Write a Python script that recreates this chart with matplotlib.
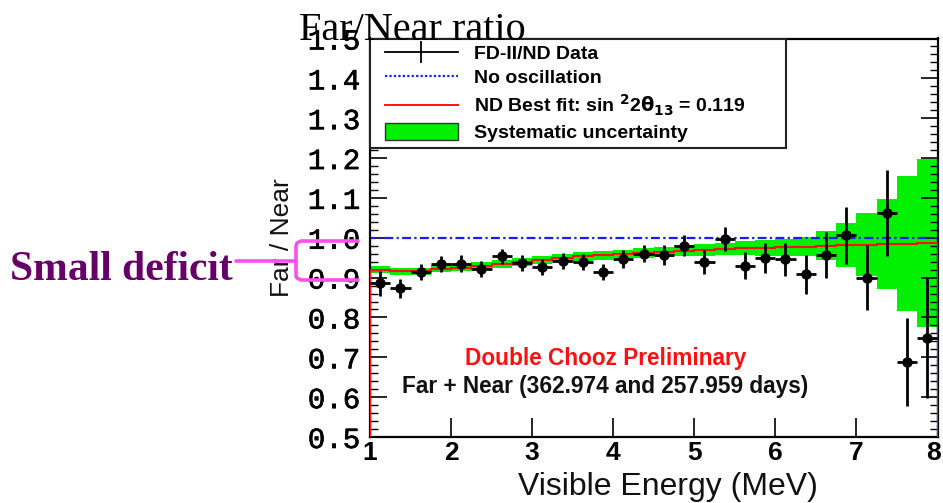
import numpy as np
import matplotlib
matplotlib.use("Agg")
import matplotlib.pyplot as plt
import matplotlib.transforms as mtransforms
import matplotlib.patheffects as pe
from matplotlib.lines import Line2D
from matplotlib.patches import Patch
from matplotlib.legend_handler import HandlerLine2D, HandlerPatch

# ---------------- data ----------------
bin_edges = [1.00, 1.25, 1.50, 1.75, 2.00, 2.25, 2.50, 2.75, 3.00, 3.25,
             3.50, 3.75, 4.00, 4.25, 4.50, 4.75, 5.00, 5.25, 5.50, 5.75,
             6.00, 6.25, 6.50, 6.75, 7.00, 7.25, 7.50, 7.75, 8.00]
ratio = [0.886, 0.873, 0.914, 0.934, 0.935, 0.922, 0.953, 0.937, 0.926, 0.942,
         0.939, 0.914, 0.947, 0.960, 0.957, 0.980, 0.940, 0.997, 0.930, 0.950,
         0.946, 0.908, 0.956, 1.006, 0.900, 1.062, 0.688, 0.748]
ratio_err = [0.031, 0.024, 0.021, 0.021, 0.021, 0.020, 0.020, 0.020, 0.020, 0.020,
             0.021, 0.021, 0.022, 0.022, 0.025, 0.027, 0.030, 0.030, 0.033, 0.038,
             0.042, 0.048, 0.058, 0.072, 0.082, 0.107, 0.111, 0.150]
best_fit = [0.920, 0.916, 0.916, 0.922, 0.925, 0.929, 0.935, 0.940, 0.945, 0.950,
            0.953, 0.956, 0.959, 0.962, 0.965, 0.967, 0.970, 0.972, 0.974, 0.975,
            0.976, 0.978, 0.980, 0.981, 0.983, 0.984, 0.985, 0.987]
syst_half = [0.009, 0.009, 0.009, 0.009, 0.009, 0.009, 0.010, 0.010, 0.010, 0.010,
             0.011, 0.011, 0.011, 0.012, 0.013, 0.014, 0.015, 0.016, 0.018, 0.020,
             0.022, 0.025, 0.037, 0.055, 0.079, 0.113, 0.170, 0.210]
no_osc = 1.0

x_ticks = [1, 2, 3, 4, 5, 6, 7, 8]
y_ticks = [0.5, 0.6, 0.7, 0.8, 0.9, 1.0, 1.1, 1.2, 1.3, 1.4, 1.5]
y_ticklabels = ["0.5", "0.6", "0.7", "0.8", "0.9", "1.0", "1.1", "1.2", "1.3", "1.4", "1.5"]

legend_labels = ["FD-II/ND Data", "No oscillation",
                 r"ND Best fit: sin $^{\mathbf{2}}$2$\mathbf{\theta}_{\mathbf{13}}$ = 0.119",
                 "Systematic uncertainty"]

# ---------------- figure ----------------
W, H = 943, 503
fig = plt.figure(figsize=(W / 100, H / 100), dpi=100)
ax = fig.add_axes([370 / W, 1 - 437 / H, (937.5 - 370) / W, (437 - 38.5) / H])

edges = np.array(bin_edges)
centers = 0.5 * (edges[:-1] + edges[1:])
half_w = 0.5 * np.diff(edges)
bf = np.array(best_fit)
sh = np.array(syst_half)

# systematic band
ax.stairs(bf + sh, edges, baseline=bf - sh, fill=True, color="#00f000",
          lw=0, zorder=1)
# best fit
ax.stairs(bf, edges, baseline=0.5, color="#ff1010", lw=1.5, zorder=3)
# no oscillation
ax.stairs(np.full(len(centers), no_osc), edges, baseline=0.5, color="#1a1aff",
          lw=1.6, linestyle=(0, (4, 1.5, 1, 1.5)), zorder=2)
# data
ax.errorbar(centers, ratio, yerr=ratio_err, xerr=half_w, fmt="o", color="black",
            ms=6.5, elinewidth=2.0, capsize=0, zorder=5)

ax.set_xlim(1, 8)
ax.set_ylim(0.5, 1.5)

# ticks
ax.set_xticks(x_ticks)
ax.set_xticklabels([str(v) for v in x_ticks], fontfamily="Liberation Sans",
                   fontweight="bold", fontsize=19)
ax.set_yticks(y_ticks)
ax.set_yticklabels(y_ticklabels, fontfamily="Liberation Mono", fontweight="normal",
                   fontsize=21)
for t in ax.get_yticklabels():
    t.set_path_effects([pe.withStroke(linewidth=0.45, foreground="black")])
ax.set_yticks(np.arange(0.5, 1.5001, 0.02), minor=True)
ax.tick_params(axis="y", which="major", direction="in", length=12, width=1.2,
               left=True, right=True, pad=7)
ax.tick_params(axis="y", which="minor", direction="in", length=6, width=1.0,
               left=True, right=True)
ax.tick_params(axis="x", which="major", direction="in", length=14, width=1.2,
               bottom=True, top=False, pad=3)
ax.tick_params(axis="x", which="minor", bottom=False, top=False)
for s in ax.spines.values():
    s.set_linewidth(1.6)
    s.set_color("black")

# keep last x tick label inside the canvas
last_lbl = ax.get_xticklabels()[-1]
last_lbl.set_transform(last_lbl.get_transform() +
                       mtransforms.ScaledTranslation(-4 / 100, 0, fig.dpi_scale_trans))

ax.set_xlabel("Visible Energy (MeV)", fontfamily="Liberation Sans", fontsize=23,
              color="#111111")
ax.xaxis.set_label_coords((668 - 370) / 567.5, -(487 - 437) / 398.5)
ax.xaxis.label.set_va("center")
ax.set_ylabel("Far / Near", fontfamily="Liberation Sans", fontsize=19,
              color="#111111")
ax.yaxis.set_label_coords((282 - 370) / 567.5, 0.5)
ax.yaxis.label.set_va("center")

# legend
h_data = Line2D([], [], color="black", lw=1.3, marker="|", ms=16, mew=1.3)
h_noosc = Line2D([], [], color="#1a1aff", lw=1.6, linestyle=(0, (1, 1)))
h_fit = Line2D([], [], color="#ff1010", lw=1.4)
h_syst = Patch(facecolor="#00f000", edgecolor="#333333", lw=1.0)
handles = [h_data, h_noosc, h_fit, h_syst]
xp = 0.46
hmap = {h_data: HandlerLine2D(xpad=xp), h_noosc: HandlerLine2D(xpad=xp),
        h_fit: HandlerLine2D(xpad=xp), h_syst: HandlerPatch(xpad=xp)}
leg = ax.legend(handles, legend_labels, loc="upper left", handler_map=hmap,
                bbox_to_anchor=(0.0, 1.0, (786 - 370) / 567.5, 0.0),
                mode="expand", borderaxespad=0.0, frameon=True, fancybox=False,
                edgecolor="#222222", framealpha=1.0, handlelength=4.23,
                handleheight=0.93, handletextpad=0.82, labelspacing=0.27,
                borderpad=0.3, numpoints=1,
                prop={"family": "Liberation Sans", "weight": "bold", "size": 14})
leg.get_frame().set_linewidth(1.5)
leg.set_zorder(10)

# annotations inside the axes
ax.text(0.415, (437 - 358) / 398.5, "Double Chooz Preliminary", transform=ax.transAxes,
        ha="center", va="center", color="#ff1010", fontfamily="Liberation Sans",
        fontweight="bold", fontsize=16.3)
ax.text(0.415, (437 - 386) / 398.5, "Far + Near (362.974 and 257.959 days)",
        transform=ax.transAxes, ha="center", va="center", color="#111111",
        fontfamily="Liberation Sans", fontweight="bold", fontsize=16.3)

# title and side annotation
fig.text(412 / W, 1 - 40 / H, "Far/Near ratio", ha="center", va="baseline",
         fontfamily="Liberation Serif", fontsize=29, color="black", zorder=20)
fig.text(10 / W, 1 - 280 / H, "Small deficit", ha="left", va="baseline",
         fontfamily="Liberation Serif", fontweight="bold", fontsize=30,
         color="#660066")

def px(x, y):
    return x / W, 1 - y / H

br_x = [358, 301, 297, 296, 296, 297, 301, 358]
br_y = [241, 241, 243, 246, 276, 278, 280, 280]
bx, by = zip(*[px(a, b) for a, b in zip(br_x, br_y)])
fig.add_artist(Line2D(bx, by, color="#ff4fe6", lw=2.6, solid_capstyle="round",
                      solid_joinstyle="round"))
hx, hy = zip(px(236, 261), px(296, 261))
fig.add_artist(Line2D(hx, hy, color="#ff4fe6", lw=2.6, solid_capstyle="round"))

fig.savefig("out.png", dpi=100)
